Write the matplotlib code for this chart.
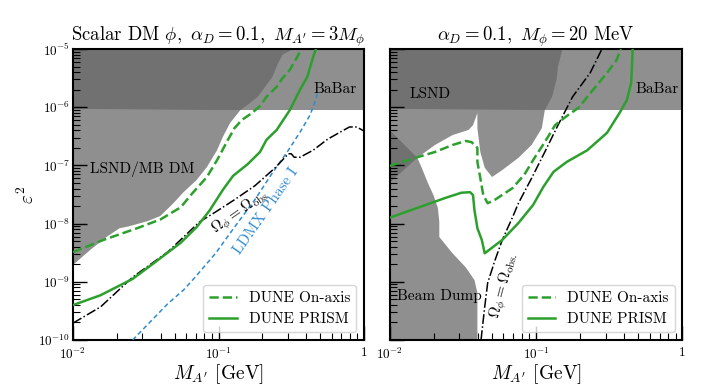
import numpy as np
import matplotlib
matplotlib.use("Agg")
import matplotlib.pyplot as plt
from matplotlib.ticker import FuncFormatter, NullFormatter

plt.rcParams["font.family"] = "serif"
plt.rcParams["font.serif"] = ["cmr10", "DejaVu Serif"]
plt.rcParams["mathtext.fontset"] = "cm"
plt.rcParams["axes.formatter.use_mathtext"] = True

# all values are log10 of (M_A' [GeV], eps^2)
XLIM = (-2.0, 0.0)
YLIM = (-10.0, -5.0)

# ---- left panel: scalar DM, M_A' = 3 M_phi ----
lsnd_mb_lx = [-2.00, -1.88, -1.77, -1.68, -1.62, -1.49, -1.40, -1.31, -1.24, -1.15, -1.08,
              -1.01, -0.97, -0.92, -0.85, -0.80, -0.73, -0.68, -0.63, -0.59, -0.56, -0.49]
lsnd_mb_ly = [-8.71, -8.45, -8.23, -8.08, -8.05, -7.96, -7.87, -7.65, -7.46, -7.25, -7.03,
              -6.74, -6.51, -6.27, -6.05, -5.96, -5.82, -5.65, -5.48, -5.24, -5.10, -5.00]

babar_lx = [-2.0, -1.0, 0.0]
babar_ly = [-6.02, -6.04, -6.04]

onaxis_l_lx = [-2.00, -1.79, -1.56, -1.40, -1.26, -1.18, -1.08, -1.01, -0.935, -0.89,
               -0.84, -0.77, -0.715, -0.67, -0.60, -0.56, -0.51, -0.46, -0.43]
onaxis_l_ly = [-8.49, -8.28, -8.08, -7.93, -7.72, -7.48, -7.20, -6.91, -6.56, -6.36,
               -6.22, -6.10, -5.98, -5.82, -5.65, -5.50, -5.36, -5.14, -5.00]

prism_l_lx = [-2.00, -1.81, -1.59, -1.45, -1.26, -1.15, -1.06, -0.97, -0.90, -0.80,
              -0.715, -0.67, -0.60, -0.51, -0.44, -0.39, -0.35, -0.33]
prism_l_ly = [-9.40, -9.23, -8.95, -8.69, -8.33, -8.06, -7.77, -7.42, -7.18, -6.98,
              -6.77, -6.56, -6.39, -6.05, -5.70, -5.48, -5.14, -5.00]

relic_l_lx = [-2.00, -1.81, -1.59, -1.35, -1.13, -1.02, -0.89, -0.75, -0.61, -0.52,
              -0.50, -0.48, -0.44, -0.35, -0.25, -0.165, -0.10, -0.05, 0.00]
relic_l_ly = [-9.71, -9.43, -8.92, -8.49, -7.97, -7.80, -7.59, -7.35, -7.04, -6.80,
              -6.80, -6.86, -6.86, -6.74, -6.55, -6.43, -6.34, -6.34, -6.41]

ldmx_lx = [-1.59, -1.47, -1.35, -1.24, -1.16, -1.02, -0.89, -0.75, -0.63, -0.52,
           -0.43, -0.37, -0.34, -0.32]
ldmx_ly = [-10.00, -9.69, -9.38, -9.14, -8.92, -8.51, -8.06, -7.59, -7.13, -6.74,
           -6.39, -6.13, -5.93, -5.76]

# ---- right panel: M_phi = 20 MeV ----
lsnd_r_lx = [-2.00, -0.82, -0.85, -0.86, -0.89, -0.94, -0.96, -1.03, -1.12, -1.23, -1.30,
             -1.35, -1.38, -1.40, -1.40, -1.43, -1.46, -1.57, -1.69, -1.81, -2.00]
lsnd_r_ly = [-5.00, -5.00, -5.31, -5.53, -5.82, -6.05, -6.36, -6.65, -6.87, -7.08, -7.20,
             -7.04, -6.77, -6.36, -6.10, -6.31, -6.39, -6.48, -6.65, -6.87, -7.30]

beamdump_lx = [-2.00, -1.81, -1.78, -1.74, -1.70, -1.67, -1.66, -1.66, -1.57, -1.48,
               -1.42, -1.40, -1.40, -2.00]
beamdump_ly = [-6.39, -6.87, -7.04, -7.29, -7.51, -7.73, -7.97, -8.23, -8.51, -8.75,
               -8.97, -9.19, -10.00, -10.00]

onaxis_r_lx = [-2.00, -1.81, -1.69, -1.57, -1.48, -1.44, -1.40, -1.40, -1.38, -1.36, -1.33,
               -1.28, -1.16, -1.08, -1.01, -0.94, -0.87, -0.80, -0.71, -0.61, -0.515, -0.45, -0.42]
onaxis_r_ly = [-7.01, -6.86, -6.77, -6.65, -6.58, -6.60, -6.70, -6.94, -7.22, -7.51, -7.65,
               -7.59, -7.39, -7.16, -6.87, -6.60, -6.31, -6.17, -6.01, -5.70, -5.41, -5.19, -5.00]

prism_r_lx = [-2.00, -1.81, -1.62, -1.51, -1.45, -1.43, -1.42, -1.40, -1.37, -1.35, -1.23,
              -1.12, -1.02, -0.95, -0.88, -0.79, -0.65, -0.515, -0.43, -0.38, -0.35, -0.34]
prism_r_ly = [-7.90, -7.73, -7.56, -7.47, -7.46, -7.51, -7.77, -8.08, -8.28, -8.51, -8.28,
              -7.99, -7.68, -7.37, -7.11, -6.94, -6.74, -6.44, -6.10, -5.88, -5.58, -5.00]

relic_r_lx = [-1.375, -1.37, -1.35, -1.33, -1.28, -1.23, -1.16, -1.12, -1.03, -0.94,
              -0.85, -0.75, -0.63, -0.55]
relic_r_ly = [-10.00, -9.88, -9.43, -9.02, -8.63, -8.28, -7.89, -7.65, -7.22, -6.77,
              -6.31, -5.82, -5.41, -5.00]


def p(v):
    return 10.0 ** np.asarray(v)


GREEN = "#2ca02c"
BLUE = "#2e8bd0"
SHADE = dict(color="0.4", alpha=0.73, linewidth=0, zorder=1)


def xfmt(v, pos):
    if abs(v - 1.0) < 1e-9:
        return "1"
    return r"$10^{%d}$" % round(np.log10(v))


def style(ax):
    ax.set_xscale("log")
    ax.set_yscale("log")
    ax.set_xlim(p(XLIM))
    ax.set_ylim(p(YLIM))
    ax.tick_params(which="both", direction="in", top=False, right=False, labelsize=9.5)
    ax.tick_params(which="major", length=10, width=1)
    ax.tick_params(which="minor", length=5, width=0.8)
    ax.tick_params(axis="y", pad=2)
    ax.tick_params(axis="x", pad=5)
    ax.xaxis.set_major_formatter(FuncFormatter(xfmt))
    ax.xaxis.set_minor_formatter(NullFormatter())
    ax.yaxis.set_minor_formatter(NullFormatter())
    for s in ax.spines.values():
        s.set_linewidth(1.5)
    ax.set_xlabel(r"$M_{A'}$ [GeV]", fontsize=14, labelpad=0)


fig = plt.figure(figsize=(7.06, 3.9), dpi=100)
ax1 = fig.add_axes([0.1034, 0.1282, 0.4122, 0.7462])
ax2 = fig.add_axes([0.5517, 0.1282, 0.4150, 0.7462])

# left panel
ax1.fill_between(p(babar_lx), p(babar_ly), p(YLIM[1]), **SHADE)
ax1.fill(p(lsnd_mb_lx + [XLIM[0]]), p(lsnd_mb_ly + [YLIM[1]]), **SHADE)
ax1.plot(p(ldmx_lx), p(ldmx_ly), color=BLUE, linestyle=(0, (3, 2)), linewidth=1.1, zorder=3)
ax1.plot(p(relic_l_lx), p(relic_l_ly), color="black", linestyle="-.", linewidth=1.1, zorder=3)
ax1.plot(p(onaxis_l_lx), p(onaxis_l_ly), color=GREEN, linestyle="--", linewidth=1.8,
         label="DUNE On-axis", zorder=4)
ax1.plot(p(prism_l_lx), p(prism_l_ly), color=GREEN, linestyle="-", linewidth=1.8,
         label="DUNE PRISM", zorder=4)
style(ax1)
ax1.set_ylabel(r"$\varepsilon^2$", fontsize=14, labelpad=0)
ax1.set_title(r"Scalar DM $\phi,\ \alpha_D = 0.1,\ M_{A'} = 3M_\phi$", fontsize=13.5, pad=5)
ax1.text(0.058, 0.588, "LSND/MB DM", transform=ax1.transAxes, fontsize=11,
         ha="left", va="center")
ax1.text(0.825, 0.863, "BaBar", transform=ax1.transAxes, fontsize=11, ha="left", va="center")
ax1.text(0.574, 0.440, r"$\Omega_\phi = \Omega_{\rm obs}$", transform=ax1.transAxes,
         fontsize=11, rotation=35, ha="center", va="center")
ax1.text(0.663, 0.443, "LDMX Phase I", transform=ax1.transAxes, fontsize=11, color=BLUE,
         rotation=55, ha="center", va="center")
ax1.legend(loc="lower right", fontsize=11, handlelength=1.8)

# right panel
ax2.fill_between(p(babar_lx), p(babar_ly), p(YLIM[1]), **SHADE)
ax2.fill(p(lsnd_r_lx), p(lsnd_r_ly), **SHADE)
ax2.fill(p(beamdump_lx), p(beamdump_ly), **SHADE)
ax2.plot(p(relic_r_lx), p(relic_r_ly), color="black", linestyle="-.", linewidth=1.1, zorder=3)
ax2.plot(p(onaxis_r_lx), p(onaxis_r_ly), color=GREEN, linestyle="--", linewidth=1.8,
         label="DUNE On-axis", zorder=4)
ax2.plot(p(prism_r_lx), p(prism_r_ly), color=GREEN, linestyle="-", linewidth=1.8,
         label="DUNE PRISM", zorder=4)
style(ax2)
ax2.tick_params(labelleft=False)
ax2.set_title(r"$\alpha_D = 0.1,\ M_\phi = 20$ MeV", fontsize=13.5, pad=5)
ax2.text(0.070, 0.845, "LSND", transform=ax2.transAxes, fontsize=11, ha="left", va="center")
ax2.text(0.838, 0.863, "BaBar", transform=ax2.transAxes, fontsize=11, ha="left", va="center")
ax2.text(0.026, 0.151, "Beam Dump", transform=ax2.transAxes, fontsize=11,
         ha="left", va="center")
ax2.text(0.391, 0.186, r"$\Omega_\phi = \Omega_{\rm obs.}$", transform=ax2.transAxes,
         fontsize=11, rotation=75, ha="center", va="center")
ax2.legend(loc="lower right", fontsize=11, handlelength=1.8)

fig.savefig("out.png", dpi=100)
